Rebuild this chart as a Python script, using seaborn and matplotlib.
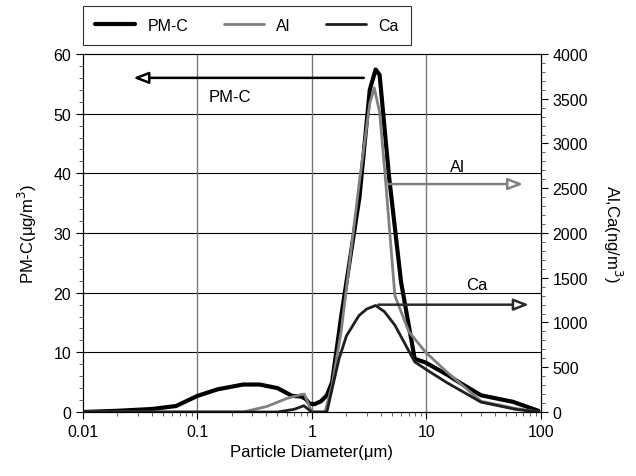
import numpy as np
import pandas as pd
import seaborn as sns
import matplotlib.pyplot as plt
from matplotlib.ticker import FixedLocator, FixedFormatter, MultipleLocator

# PM-C (ug/m3), left axis
pm_x = [0.01, 0.02, 0.04, 0.065, 0.1, 0.15, 0.25, 0.35, 0.5, 0.67, 0.8, 0.88,
        0.95, 1.05, 1.2, 1.35, 1.5, 1.8, 2.6, 3.2, 3.6, 3.9, 4.7, 6.0, 7.9,
        9.8, 15, 20, 30, 57, 95]
pm_y = [0.0, 0.2, 0.5, 1.0, 2.7, 3.8, 4.6, 4.6, 4.0, 2.7, 2.6, 2.2,
        1.4, 1.3, 1.8, 2.8, 5.0, 16.0, 36.0, 54.0, 57.4, 56.5, 39.7, 21.8, 8.9,
        8.3, 6.3, 4.8, 2.8, 1.7, 0.2]

# Al (ng/m3), right axis
al_x = [0.01, 0.25, 0.4, 0.6, 0.8, 0.86, 0.95, 1.0, 1.3, 1.5, 1.8, 2.6, 3.2,
        3.5, 3.9, 4.4, 5.3, 7.0, 9.8, 15, 30, 60, 95]
al_y = [0, 0, 60, 150, 195, 200, 60, 0, 0, 300, 900, 2580, 3450,
        3620, 3350, 2580, 1300, 900, 670, 450, 120, 40, 0]

# Ca (ng/m3), right axis
ca_x = [0.01, 0.5, 0.7, 0.85, 0.95, 1.0, 1.35, 1.5, 1.72, 2.0, 2.57, 3.0, 3.6,
        4.3, 5.3, 7.9, 9.8, 15, 30, 60, 95]
ca_y = [0, 0, 30, 70, 20, 0, 0, 257, 590, 850, 1076, 1150, 1190,
        1120, 970, 560, 480, 330, 110, 30, 0]

sns.set_style("ticks")
plt.rcParams['font.family'] = ['Liberation Sans', 'DejaVu Sans']
plt.rcParams['text.color'] = 'black'
plt.rcParams['axes.labelcolor'] = 'black'

fig = plt.figure(figsize=(6.36, 4.77), dpi=100)
ax = fig.add_axes([0.1305, 0.1342, 0.72, 0.7505])
ax2 = ax.twinx()

sns.lineplot(ax=ax, x=pm_x, y=pm_y, color="black", linewidth=3, label="PM-C", legend=False)
sns.lineplot(ax=ax2, x=al_x, y=al_y, color="#808080", linewidth=2, label="Al", legend=False)
sns.lineplot(ax=ax2, x=ca_x, y=ca_y, color="#1e1e1e", linewidth=2, label="Ca", legend=False)

ax.set_xscale("log")
ax.set_xlim(0.01, 100)
ax.set_ylim(0, 60)
ax2.set_ylim(0, 4000)

ax.xaxis.set_major_locator(FixedLocator([0.01, 0.1, 1, 10, 100]))
ax.xaxis.set_major_formatter(FixedFormatter(["0.01", "0.1", "1", "10", "100"]))
ax.yaxis.set_major_locator(MultipleLocator(10))
ax.yaxis.set_minor_locator(MultipleLocator(2))
ax2.yaxis.set_major_locator(MultipleLocator(500))
ax2.yaxis.set_minor_locator(MultipleLocator(100))

for a in (ax, ax2):
    a.tick_params(which="major", length=5, width=0.8, colors="black", labelsize=11.5)
    a.tick_params(which="minor", length=3, width=0.6, colors="#444444")
    for s in a.spines.values():
        s.set_color("black")
        s.set_linewidth(0.8)

# grid lines
for v in range(10, 60, 10):
    ax.axhline(v, color="black", linewidth=0.8, zorder=0)
for v in [0.1, 1, 10]:
    ax.axvline(v, color="#777777", linewidth=1, zorder=0)

ax.set_xlabel("Particle Diameter(μm)", fontsize=12)
ax.set_ylabel("PM-C(μg/m$^3$)", fontsize=12, labelpad=10)
ax2.set_ylabel("Al,Ca(ng/m$^3$)", fontsize=12, rotation=270, labelpad=26)

# annotation arrows
head = "-|>,head_length=0.9,head_width=0.35"
ax.annotate("", xy=(0.026, 56), xytext=(3.0, 56),
            arrowprops=dict(arrowstyle=head, color="black", fc="white", lw=1.8))
ax.text(0.192, 52.9, "PM-C", fontsize=12, ha="center", va="center")
ax2.annotate("", xy=(74, 2547), xytext=(4.4, 2547),
             arrowprops=dict(arrowstyle=head, color="#808080", fc="white", lw=1.8))
ax2.text(18.8, 2738, "Al", fontsize=12, ha="center", va="center")
ax2.annotate("", xy=(83, 1199), xytext=(3.6, 1199),
             arrowprops=dict(arrowstyle=head, color="#2a2a2a", fc="white", lw=1.8))
ax2.text(27.6, 1419, "Ca", fontsize=12, ha="center", va="center")

handles = ax.get_lines()[:1] + ax2.get_lines()[:2]
leg = fig.legend(handles=handles, labels=["PM-C", "Al", "Ca"], loc="upper left",
                 bbox_to_anchor=(0.1305, 0.986), ncol=3, frameon=True,
                 fancybox=False, edgecolor="black", fontsize=11.5,
                 handlelength=2.5, columnspacing=2.2, borderpad=0.75,
                 borderaxespad=0)
leg.get_frame().set_linewidth(0.8)

fig.savefig("out.png", dpi=100)
